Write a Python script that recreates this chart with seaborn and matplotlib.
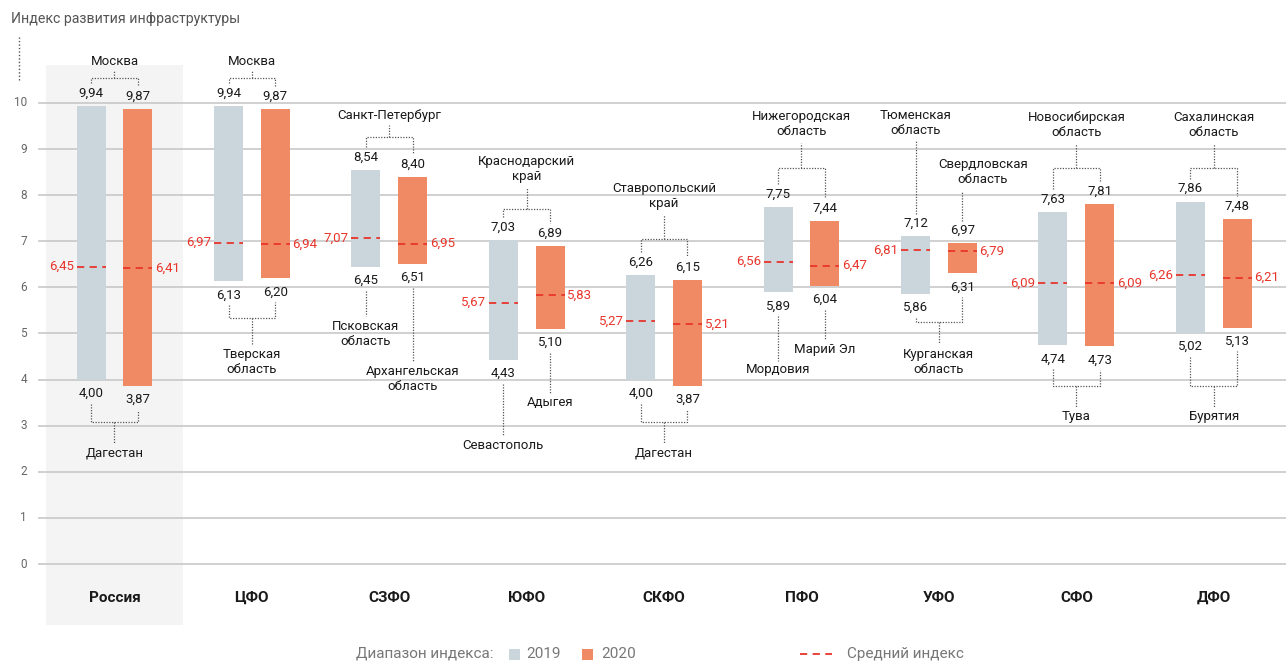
import matplotlib
matplotlib.use("Agg")
import matplotlib.pyplot as plt
import pandas as pd
import seaborn as sns

# ---- data ---------------------------------------------------------------
districts = ["Россия", "ЦФО", "СЗФО", "ЮФО", "СКФО", "ПФО", "УФО", "СФО", "ДФО"]
years = ["2019", "2020"]

max_2019 = [9.94, 9.94, 8.54, 7.03, 6.26, 7.75, 7.12, 7.63, 7.86]
min_2019 = [4.00, 6.13, 6.45, 4.43, 4.00, 5.89, 5.86, 4.74, 5.02]
mean_2019 = [6.45, 6.97, 7.07, 5.67, 5.27, 6.56, 6.81, 6.09, 6.26]

max_2020 = [9.87, 9.87, 8.40, 6.89, 6.15, 7.44, 6.97, 7.81, 7.48]
min_2020 = [3.87, 6.20, 6.51, 5.10, 3.87, 6.04, 6.31, 4.73, 5.13]
mean_2020 = [6.41, 6.94, 6.95, 5.83, 5.21, 6.47, 6.79, 6.09, 6.21]

# leading regions (max) and lagging regions (min) per district and year
top_region_2019 = ["Москва", "Москва", "Санкт-Петербург", "Краснодарский\nкрай",
                   "Ставропольский\nкрай", "Нижегородская\nобласть", "Тюменская\nобласть",
                   "Новосибирская\nобласть", "Сахалинская\nобласть"]
top_region_2020 = ["Москва", "Москва", "Санкт-Петербург", "Краснодарский\nкрай",
                   "Ставропольский\nкрай", "Нижегородская\nобласть", "Свердловская\nобласть",
                   "Новосибирская\nобласть", "Сахалинская\nобласть"]
bottom_region_2019 = ["Дагестан", "Тверская\nобласть", "Псковская\nобласть", "Севастополь",
                      "Дагестан", "Мордовия", "Курганская\nобласть", "Тува", "Бурятия"]
bottom_region_2020 = ["Дагестан", "Тверская\nобласть", "Архангельская\nобласть", "Адыгея",
                      "Дагестан", "Марий Эл", "Курганская\nобласть", "Тува", "Бурятия"]

y_ticks = list(range(0, 11))

# ---- annotation layout (index units) --------------------------------------
top_layout = {
    0: dict(bracket=10.54, label=10.91),
    1: dict(bracket=10.54, label=10.91),
    2: dict(bracket=9.26, label=9.72),
    3: dict(bracket=7.70, label=8.57),
    4: dict(bracket=7.05, label=7.98),
    5: dict(bracket=8.59, label=9.54),
    6: dict(label=(9.57, 8.50), dx=(0.0, 0.15)),
    7: dict(bracket=8.59, label=9.52),
    8: dict(bracket=8.59, label=9.52),
}
bottom_layout = {
    0: dict(bracket=3.08, label=2.41),
    1: dict(bracket=5.34, label=4.38),
    2: dict(label=(4.98, 4.01)),
    3: dict(label=(2.58, 3.51)),
    4: dict(bracket=3.08, label=2.41),
    5: dict(label=(4.21, 4.66)),
    6: dict(bracket=5.25, label=4.38),
    7: dict(bracket=3.86, label=3.19),
    8: dict(bracket=3.86, label=3.19),
}

# ---- style ------------------------------------------------------------
C2019 = "#cbd6dc"
C2020 = "#f08a65"
CMEAN = "#e8352b"
CGRID = "#c4c4c4"
CPANEL = "#f4f4f4"
CTEXT = "#1a1a1a"
CDOT = "#555555"

sns.set_theme(style="white")
plt.rcParams["font.family"] = ["Roboto", "DejaVu Sans"]

W, H = 1286, 661
fig = plt.figure(figsize=(W / 100, H / 100), dpi=100)
ax = fig.add_axes([0, 0, 1, 1])

df = pd.DataFrame({
    "district": districts * 2,
    "year": [years[0]] * len(districts) + [years[1]] * len(districts),
    "lo": min_2019 + min_2020,
    "hi": max_2019 + max_2020,
})
df["span"] = df["hi"] - df["lo"]

sns.barplot(data=df, x="district", y="span", hue="year", order=districts,
            hue_order=years, palette=[C2019, C2020], width=0.68, gap=0.38,
            saturation=1, errorbar=None, legend=False, linewidth=0,
            zorder=3, ax=ax)

# lift each bar so that it spans min..max
lows = {0: min_2019, 1: min_2020}
centers = {}
half_w = None
for k, cont in enumerate(ax.containers):
    cs = []
    for bar, lo in zip(cont.patches, lows[k]):
        bar.set_y(lo)
        cs.append(bar.get_x() + bar.get_width() / 2)
        half_w = bar.get_width() / 2
    centers[k] = cs

# pixel-based frame
XL = (-0.833, 8.526)
YL = (-2.104, 12.234)
ax.set_xlim(*XL)
ax.set_ylim(*YL)
ax.set_axis_off()


def px_x(p):
    return XL[0] + p / W * (XL[1] - XL[0])


# Russia panel
ax.add_patch(plt.Rectangle((-0.5, -1.32), 1.0, 12.14, color=CPANEL, zorder=0, lw=0))

# grid and y labels
ax.hlines(y_ticks, px_x(38), XL[1], color=CGRID, lw=1.1, zorder=1)
for t in y_ticks:
    ax.text(px_x(27), t, str(t), ha="right", va="center", fontsize=8.5, color="#666666")
ax.plot([px_x(19), px_x(19)], [10.50, 11.48], color=CDOT, lw=1.0,
        linestyle=(0, (1, 1.5)))

ax.text(px_x(11), (564 - 19) / 46.1, "Индекс развития инфраструктуры",
        ha="left", va="center", fontsize=10.2, color="#555555")

# category labels
for i, d in enumerate(districts):
    ax.text(i, -0.74, d, ha="center", va="center", fontsize=11,
            fontweight="bold", color=CTEXT)


def fmt(v):
    return f"{v:.2f}".replace(".", ",")


FS = 9.5
dot_kw = dict(color=CDOT, lw=0.9, linestyle=(0, (1, 1.2)), zorder=4)

series = [(max_2019, min_2019, mean_2019), (max_2020, min_2020, mean_2020)]
for k, (mx, mn, me) in enumerate(series):
    for i in range(len(districts)):
        cx = centers[k][i]
        ax.text(cx, mx[i] + 0.28, fmt(mx[i]), ha="center", va="center",
                fontsize=FS, color=CTEXT)
        ax.text(cx, mn[i] - 0.30, fmt(mn[i]), ha="center", va="center",
                fontsize=FS, color=CTEXT)
        ax.hlines(me[i], cx - half_w, cx + half_w, color=CMEAN, lw=1.3,
                  linestyles=[(0, (4, 3))], zorder=5)
        if k == 0:
            ax.text(cx - half_w - 0.02, me[i], fmt(me[i]), ha="right",
                    va="center", fontsize=FS, color=CMEAN)
        else:
            ax.text(cx + half_w + 0.02, me[i], fmt(me[i]), ha="left",
                    va="center", fontsize=FS, color=CMEAN)


def half_block(txt):
    return 0.2 if "\n" not in txt else 0.4


# leaders to region names
for i in range(len(districts)):
    x0, x1 = centers[0][i], centers[1][i]
    # top
    lay = top_layout[i]
    if top_region_2019[i] == top_region_2020[i]:
        b = lay["bracket"]
        name = top_region_2019[i]
        ax.plot([x0, x0, x1, x1], [max_2019[i] + 0.5, b, b, max_2020[i] + 0.5], **dot_kw)
        ax.plot([i, i], [b, lay["label"] - half_block(name)], **dot_kw)
        ax.text(i, lay["label"], name, ha="center", va="center", fontsize=FS,
                color=CTEXT, linespacing=1.2)
    else:
        dx = lay.get("dx", (0, 0))
        for k, (cx, v, name) in enumerate([(x0, max_2019[i], top_region_2019[i]),
                                           (x1, max_2020[i], top_region_2020[i])]):
            ly = lay["label"][k]
            ax.plot([cx, cx], [v + 0.47, ly - half_block(name)], **dot_kw)
            ax.text(cx + dx[k], ly, name, ha="center", va="center", fontsize=FS,
                    color=CTEXT, linespacing=1.2)
    # bottom
    lay = bottom_layout[i]
    if bottom_region_2019[i] == bottom_region_2020[i]:
        b = lay["bracket"]
        name = bottom_region_2019[i]
        ax.plot([x0, x0, x1, x1], [min_2019[i] - 0.52, b, b, min_2020[i] - 0.52], **dot_kw)
        ax.plot([i, i], [b, lay["label"] + half_block(name)], **dot_kw)
        ax.text(i, lay["label"], name, ha="center", va="center", fontsize=FS,
                color=CTEXT, linespacing=1.2)
    else:
        for k, (cx, v, name) in enumerate([(x0, min_2019[i], bottom_region_2019[i]),
                                           (x1, min_2020[i], bottom_region_2020[i])]):
            ly = lay["label"][k]
            ax.plot([cx, cx], [v - 0.52, ly + half_block(name)], **dot_kw)
            ax.text(cx, ly, name, ha="center", va="center", fontsize=FS,
                    color=CTEXT, linespacing=1.2)

# legend
LEG_Y = 1 - 654 / H
LEG_FS = 11
fig.text(356 / W, LEG_Y, "Диапазон индекса:", ha="left", va="center",
         fontsize=LEG_FS, color="#777777")
fig.patches.append(plt.Rectangle((509 / W, LEG_Y - 5.5 / H), 11 / W, 11 / H,
                                 transform=fig.transFigure, color=C2019, lw=0))
fig.text(526 / W, LEG_Y, years[0], ha="left", va="center", fontsize=LEG_FS,
         color="#777777")
fig.patches.append(plt.Rectangle((582 / W, LEG_Y - 5.5 / H), 11 / W, 11 / H,
                                 transform=fig.transFigure, color=C2020, lw=0))
fig.text(601 / W, LEG_Y, years[1], ha="left", va="center", fontsize=LEG_FS,
         color="#777777")
fig.lines.append(plt.Line2D([800 / W, 832 / W], [LEG_Y, LEG_Y], transform=fig.transFigure,
                            color=CMEAN, lw=1.3, linestyle=(0, (4, 3))))
fig.text(847 / W, LEG_Y, "Средний индекс", ha="left", va="center",
         fontsize=LEG_FS, color="#777777")

fig.savefig("out.png", dpi=100)
